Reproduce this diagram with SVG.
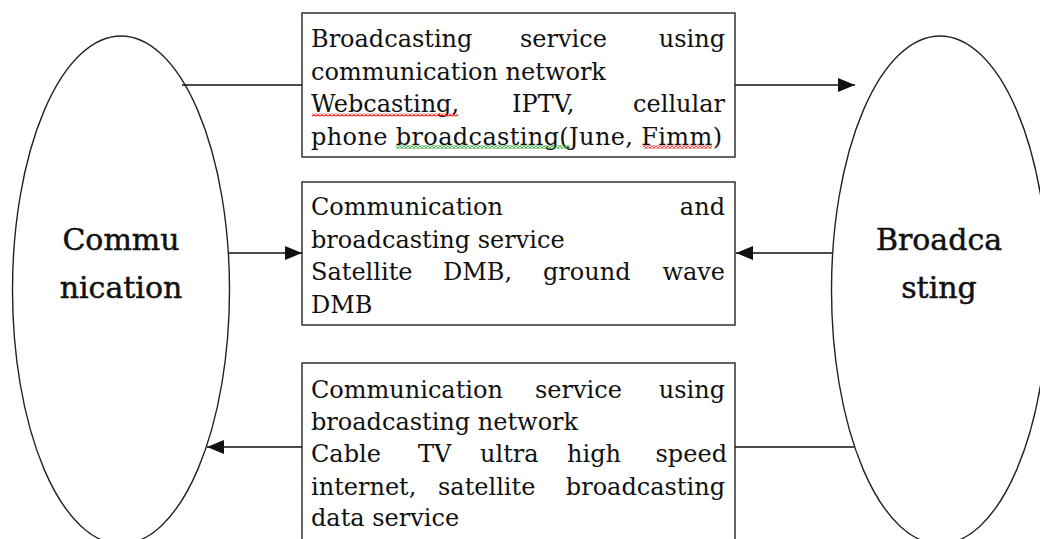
<svg xmlns="http://www.w3.org/2000/svg" width="1040" height="539" viewBox="0 0 1040 539">
  <style>
    .ell { fill: #ffffff; stroke: #222222; stroke-width: 1.4; }
    .box { fill: #ffffff; stroke: #333333; stroke-width: 1.5; }
    .big { font-family: "DejaVu Serif", "Liberation Serif", serif; font-size: 30px; fill: #111111; stroke: #111111; stroke-width: 0.5; text-anchor: middle; }
    .txt { font-family: "DejaVu Serif", "Liberation Serif", serif; font-size: 24px; fill: #111111; }
    .end { text-anchor: end; }
    .wire { stroke: #111111; stroke-width: 1.3; fill: none; }
  </style>
  <defs>
    <marker id="head" markerUnits="userSpaceOnUse" markerWidth="17" markerHeight="14" refX="17" refY="7" orient="auto">
      <path d="M0,0 L17,7 L0,14 z" fill="#111111"/>
    </marker>
    <!-- wavy proofing underlines -->
    <pattern id="waveRed" patternUnits="userSpaceOnUse" width="4" height="3">
      <path d="M0,2.5 L2,0.5 L4,2.5" fill="none" stroke="#ff1010" stroke-width="1.1"/>
    </pattern>
    <pattern id="waveGreen" patternUnits="userSpaceOnUse" width="4" height="3">
      <path d="M0,2.5 L2,0.5 L4,2.5" fill="none" stroke="#109a10" stroke-width="1.1"/>
    </pattern>
  </defs>

  <rect width="1040" height="539" fill="#ffffff"/>

  <g id="communication">
    <ellipse class="ell" cx="121" cy="290" rx="108.5" ry="254"/>
    <text class="big" x="121" y="250">Commu</text>
    <text class="big" x="121" y="298">nication</text>
  </g>

  <g id="broadcasting">
    <ellipse class="ell" cx="940" cy="290" rx="108.5" ry="254"/>
    <text class="big" x="939" y="250">Broadca</text>
    <text class="big" x="939" y="298">sting</text>
  </g>

  <g id="box-broadcast-over-comm">
    <rect class="box" x="302" y="13" width="433" height="144"/>
    <text class="txt" x="311" y="47">Broadcasting</text>
    <text class="txt" x="520" y="47">service</text>
    <text class="txt end" x="725" y="47">using</text>
    <text class="txt" x="311" y="80">communication network</text>
    <text class="txt" x="311" y="112">Webcasting,</text>
    <text class="txt" x="512" y="112">IPTV,</text>
    <text class="txt end" x="725" y="112">cellular</text>
    <text class="txt" x="311" y="145" textLength="411" lengthAdjust="spacing">phone broadcasting(June, Fimm)</text>
    <rect x="312" y="113.5" width="146" height="3" fill="url(#waveRed)"/>
    <rect x="396" y="145.5" width="174" height="3" fill="url(#waveGreen)"/>
    <rect x="643" y="145.5" width="69" height="3" fill="url(#waveRed)"/>
  </g>

  <g id="box-converged">
    <rect class="box" x="302" y="182" width="433" height="143"/>
    <text class="txt" x="311" y="215">Communication</text>
    <text class="txt end" x="725" y="215">and</text>
    <text class="txt" x="311" y="248">broadcasting service</text>
    <text class="txt" x="311" y="280">Satellite</text>
    <text class="txt" x="443" y="280">DMB,</text>
    <text class="txt" x="543" y="280">ground</text>
    <text class="txt end" x="725" y="280">wave</text>
    <text class="txt" x="311" y="313">DMB</text>
  </g>

  <g id="box-comm-over-broadcast">
    <rect class="box" x="302" y="363" width="433" height="190"/>
    <text class="txt" x="311" y="398">Communication</text>
    <text class="txt" x="535" y="398">service</text>
    <text class="txt end" x="725" y="398">using</text>
    <text class="txt" x="311" y="430">broadcasting network</text>
    <text class="txt" x="311" y="462">Cable</text>
    <text class="txt" x="418" y="462">TV</text>
    <text class="txt" x="480" y="462">ultra</text>
    <text class="txt" x="567" y="462">high</text>
    <text class="txt end" x="727" y="462">speed</text>
    <text class="txt" x="311" y="495">internet,</text>
    <text class="txt" x="438" y="495">satellite</text>
    <text class="txt end" x="725" y="495">broadcasting</text>
    <text class="txt" x="311" y="526">data service</text>
  </g>

  <g id="connectors">
    <line class="wire" x1="182" y1="85" x2="302" y2="85"/>
    <line class="wire" x1="735" y1="85" x2="855" y2="85" marker-end="url(#head)"/>
    <line class="wire" x1="229" y1="253" x2="302" y2="253" marker-end="url(#head)"/>
    <line class="wire" x1="832" y1="253" x2="736" y2="253" marker-end="url(#head)"/>
    <line class="wire" x1="302" y1="447" x2="207" y2="447" marker-end="url(#head)"/>
    <line class="wire" x1="735" y1="447" x2="854" y2="447"/>
  </g>
</svg>
